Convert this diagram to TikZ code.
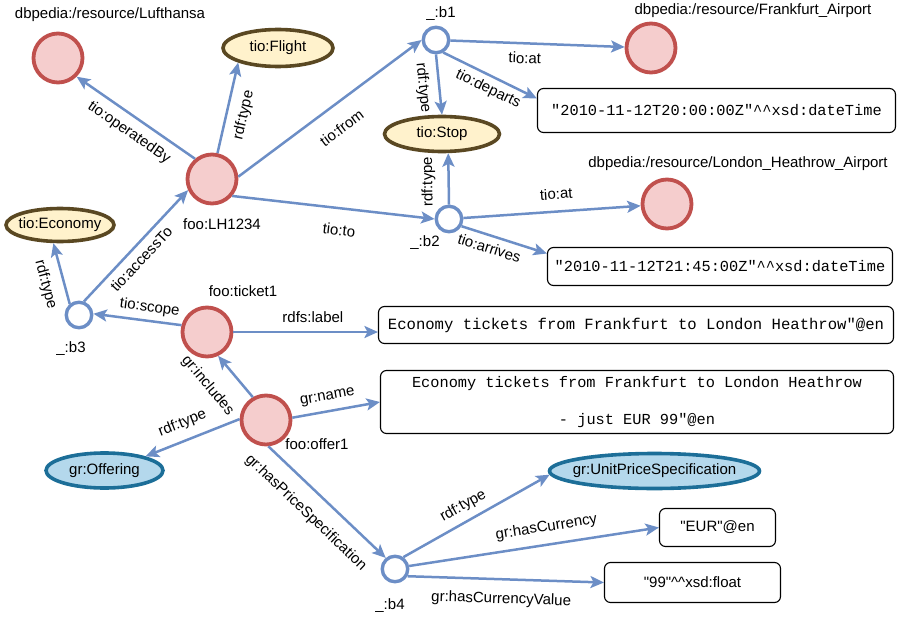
\documentclass[tikz,border=0pt]{standalone}
\usepackage{fontspec}
\setmainfont{Liberation Sans}[Ligatures=TeXOff]
\newfontfamily\monof{Liberation Mono}
\usetikzlibrary{shapes.geometric,arrows.meta}

\definecolor{edgeblue}{RGB}{108,142,198}
\definecolor{resline}{RGB}{192,80,77}
\definecolor{resfill}{RGB}{245,205,205}
\definecolor{clsline}{RGB}{90,72,34}
\definecolor{clsfill}{RGB}{255,242,204}
\definecolor{grline}{RGB}{28,110,152}
\definecolor{grfill}{RGB}{180,216,236}

% text of zero width, so that the ellipse size is set by the minimum sizes only
\newcommand\nowidth[1]{\makebox[0pt]{#1}}

\begin{document}
\begin{tikzpicture}[x=1pt,y=-1pt,
  every node/.style={font=\fontsize{15pt}{18pt}\selectfont},
  res/.style={circle, draw=resline, fill=resfill, line width=3.8pt, minimum size=49pt, inner sep=0pt},
  blank/.style={circle, draw=edgeblue, fill=white, line width=3.4pt, minimum size=25.5pt, inner sep=0pt},
  cls/.style={ellipse, draw=clsline, fill=clsfill, line width=3.6pt, inner sep=0pt},
  grcls/.style={ellipse, draw=grline, fill=grfill, line width=3.6pt, inner sep=0pt},
  lit/.style={rectangle, rounded corners=6pt, draw=black, line width=1.1pt, inner sep=0pt, fill=white},
  mono/.style={font=\monof\fontsize{15.3pt}{18pt}\selectfont},
  rel/.style={draw=edgeblue, line width=2.5pt, -{Stealth[length=13.5pt,width=12pt,inset=3pt]}},
  lbl/.style={sloped, inner sep=#1},
  lbl/.default=6pt,
]
\path[use as bounding box] (0,0) rectangle (897,618);

% resources
\node[res] (luf) at (58,58) {};
\node[res] (lh)  at (212,179) {};
\node[res] (fra) at (651,48) {};
\node[res] (lhr) at (667,204) {};
\node[res] (t1)  at (207,332) {};
\node[res] (o1)  at (266,420) {};

% blank nodes
\node[blank] (b1) at (436,40) {};
\node[blank] (b2) at (449,219) {};
\node[blank] (b3) at (79,315) {};
\node[blank] (b4) at (395,569) {};

% classes
\node[cls, minimum width=110pt, minimum height=37pt] (flight) at (278,48) {\nowidth{tio:Flight}};
\node[cls, minimum width=115pt, minimum height=35pt] (stop) at (442,134) {\nowidth{tio:Stop}};
\node[cls, minimum width=108pt, minimum height=33pt] (econ) at (60,225) {\nowidth{tio:Economy}};
\node[grcls, minimum width=117pt, minimum height=35pt] (off) at (104.5,470.5) {\nowidth{gr:Offering}};
\node[grcls, minimum width=210pt, minimum height=35pt] (unit) at (654.5,471) {\nowidth{gr:UnitPriceSpecification}};

% literals
\node[lit, mono, minimum width=358pt, minimum height=44pt] (d1) at (716.5,110.5)
  {"2010-11-12T20:00:00Z"\textasciicircum\textasciicircum xsd:dateTime};
\node[lit, mono, minimum width=345pt, minimum height=38pt] (d2) at (720,266.5)
  {"2010-11-12T21:45:00Z"\textasciicircum\textasciicircum xsd:dateTime};
\node[lit, mono, font=\monof\fontsize{15.6pt}{18pt}\selectfont, minimum width=515pt, minimum height=37pt] (rdfs) at (636,325)
  {Economy tickets from Frankfurt to London Heathrow"@en};
\node[lit, mono, align=center, minimum width=513pt, minimum height=63pt] (namebox) at (637,402)
  {Economy tickets from Frankfurt to London Heathrow\\[19pt]- just EUR 99"@en};
\node[lit, minimum width=116pt, minimum height=38pt] (eur) at (717.5,527.5) {"EUR"@en};
\node[lit, minimum width=176pt, minimum height=40pt] (fl) at (692.5,582.5)
  {"99"\textasciicircum\textasciicircum xsd:float};

% names printed beside the nodes
\node (lufname) at (110,15) {dbpedia:/resource/Lufthansa};
\node (franame) at (753,11) {dbpedia:/resource/Frankfurt\_Airport};
\node (lhrname) at (738,164) {dbpedia:/resource/London\_Heathrow\_Airport};
\node (lhname)  at (222,224) {foo:LH1234};
\node (b1name)  at (441,14) {\_:b1};
\node (b2name)  at (425,243) {\_:b2};
\node (b3name)  at (71,349) {\_:b3};
\node (t1name)  at (243,291) {foo:ticket1};
\node (o1name)  at (317,444) {foo:offer1};
\node (b4name)  at (390,606) {\_:b4};

% flight
\draw[rel] (lh.130) -- node[lbl=8pt, pos=0.48, below] {tio:operatedBy} (luf.-45);
\draw[rel] (lh.78) -- node[lbl=9pt, pos=0.46, below] {rdf:type} (flight.200);
\draw[rel] (lh.5) -- node[lbl=16pt, pos=0.49, below] {tio:from} (b1.west);
\draw[rel] (lh.-40) -- node[lbl=15pt, pos=0.54, below] {tio:to} (b2.west);

% departure
\draw[rel] (b1) -- node[lbl=8pt, pos=0.43, below] {tio:at} (fra);
\draw[rel] (b1.-60) -- node[lbl=5pt, pos=0.54, below] {tio:departs} ([yshift=12pt]d1.west);
\draw[rel] (b1.-90) -- node[lbl=8pt, pos=0.53, below] {rdf:type} (stop.north);

% arrival
\draw[rel] (b2.north) -- node[lbl=12pt, allow upside down, pos=0.45, above] {rdf:type} (stop.-72);
\draw[rel] (b2) -- node[lbl=11pt, pos=0.53, above] {tio:at} (lhr);
\draw[rel] (b2.-30) -- node[lbl=5.5pt, pos=0.37, below] {tio:arrives} ([yshift=13pt]d2.west);

% ticket
\draw[rel] (b3.70) -- node[lbl=6pt, pos=0.46, below] {tio:accessTo} (lh.205);
\draw[rel] (b3.130) -- node[lbl=10pt, pos=0.40, below] {rdf:type} (econ.250);
\draw[rel] (t1.165) -- node[lbl=5pt, pos=0.38, above] {tio:scope} (b3.5);
\draw[rel] (t1) -- node[lbl=8pt, pos=0.55, above] {rdfs:label} (t1 -| rdfs.west);

% offer
\draw[rel] (o1.120) -- node[lbl=19pt, pos=0.7, below] {gr:includes} (t1.-65);
\draw[rel] (o1.178) -- node[lbl=9pt, pos=0.54, above] {rdf:type} (off.19);
\draw[rel] (o1.5) -- node[lbl=7pt, pos=0.43, above] {gr:name} (namebox.west);
\draw[rel] (o1.-85) -- node[lbl=14pt, pos=0.45, below] {gr:hasPriceSpecification} (b4.130);

% price specification
\draw[rel] (b4.55) -- node[lbl=7pt, pos=0.46, above] {rdf:type} (unit.182);
\draw[rel] (b4.12) -- node[lbl=9pt, pos=0.56, above] {gr:hasCurrency} (eur.west);
\draw[rel] (b4.-30) -- node[lbl=12pt, pos=0.48, below] {gr:hasCurrencyValue} (fl.west);
\end{tikzpicture}
\end{document}
